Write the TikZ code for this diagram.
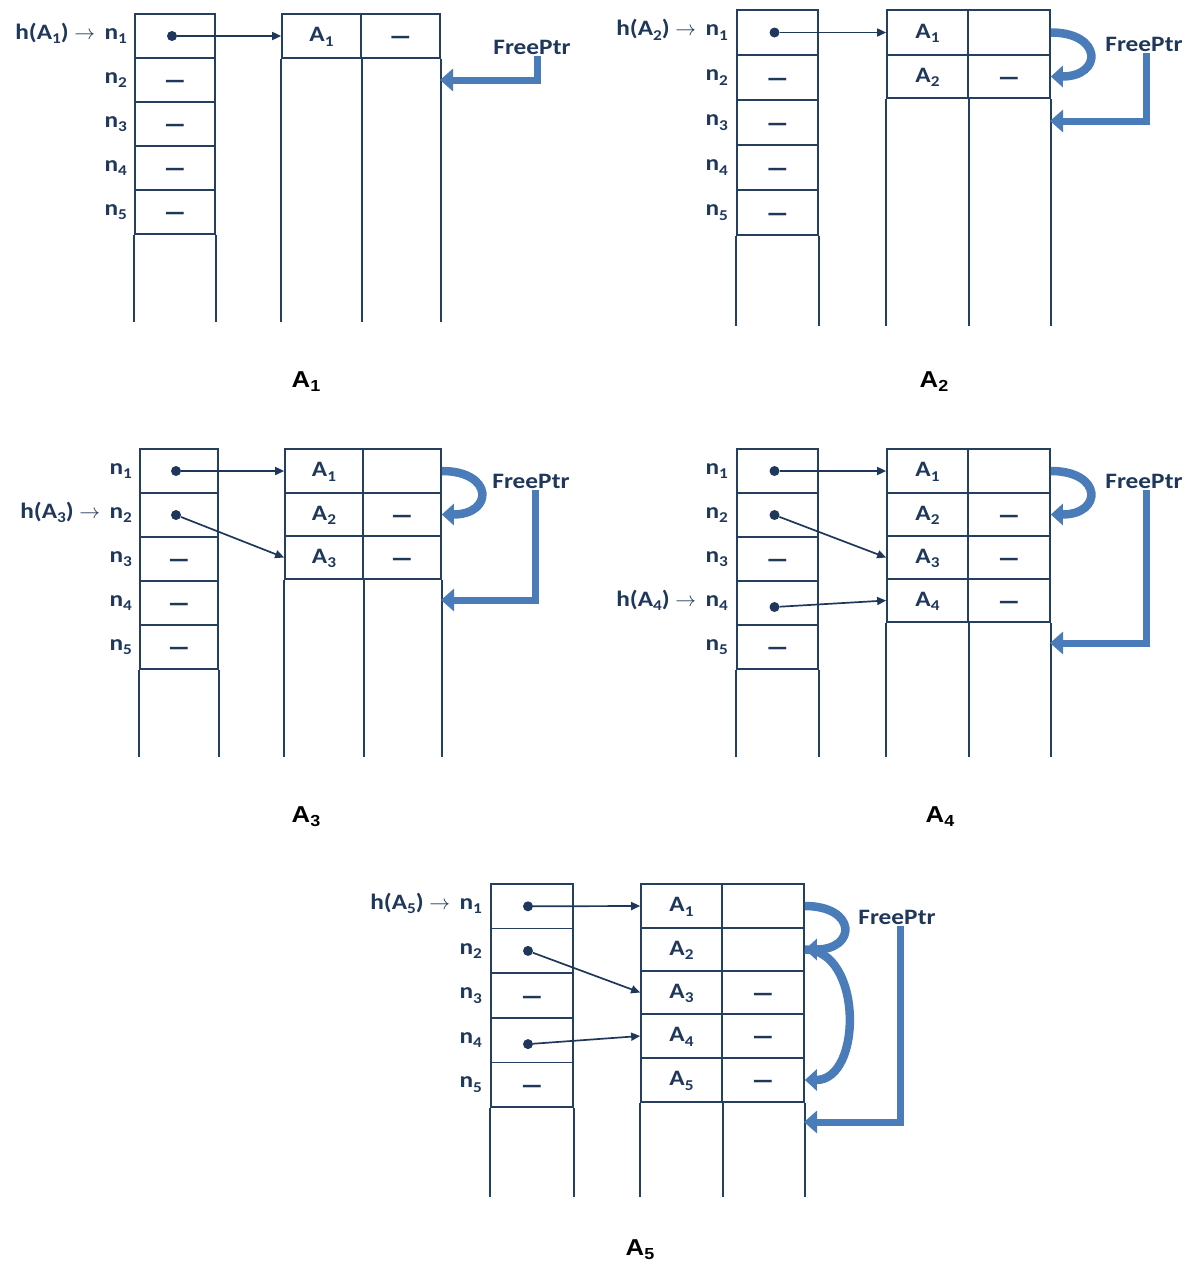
\documentclass[tikz,border=0pt]{standalone}
\usepackage{fontspec}
\setmainfont{Carlito}[FakeStretch=1.15]
\newfontfamily\capfont{Liberation Sans}[FakeStretch=1.12]
\newfontfamily\dashfont{Carlito}[FakeStretch=1.8]
\usetikzlibrary{arrows.meta,positioning}
\definecolor{navy}{RGB}{37,63,96}
\definecolor{inkblue}{RGB}{30,55,90}
\definecolor{arrowblue}{RGB}{74,124,186}
\newcommand{\cellfont}{\bfseries\fontsize{22}{26}\selectfont}
\newcommand{\sbs}[1]{\raisebox{-4.5pt}{\fontsize{15}{15}\selectfont#1}}
\newcommand{\capsbs}[1]{\raisebox{-4pt}{\fontsize{16}{16}\selectfont#1}}
\newcommand{\nil}{\raisebox{-4pt}{\dashfont\fontsize{28}{28}\selectfont –}}
\tikzset{
  cellbox/.style={draw=navy, line width=1.7pt, minimum width=#1, minimum height=44pt, inner sep=0pt,
    text height=15pt, text depth=4pt, text=inkblue, font=\cellfont},
  cellbox/.default=80pt,
  gridline/.style={draw=navy, line width=1.7pt},
  lbl/.style={text=inkblue, font=\cellfont, inner sep=0pt},
  dot/.style={circle, fill=inkblue, inner sep=0pt, minimum size=10pt},
  ptr/.style={inkblue, line width=1.7pt, -{Triangle[length=9pt,width=8pt]}},
  freeptr/.style={draw=arrowblue, line width=7pt, -{Triangle[length=13pt,width=22pt]}},
  loopy/.style={draw=arrowblue, line width=8.5pt, -{Triangle[length=12pt,width=21pt]}},
  fptxt/.style={text=inkblue, font=\cellfont, inner sep=2pt},
  captxt/.style={font=\capfont\bfseries\fontsize{23}{26}\selectfont}
}
\begin{document}
\begin{tikzpicture}[x=1pt,y=-1pt]
\useasboundingbox (0,0) rectangle (1188,1262);

% A1
\foreach \i/\yy/\c in {1/36/{},2/80/\nil,3/124/\nil,4/168/\nil,5/212/\nil}{
  \node[cellbox] (k1\i) at (175,\yy) {\c};
  \node[lbl, left=7pt of k1\i] (n1\i) {n\sbs{\i}};
}
\draw[gridline] (k15.south west) -- +(0,87) (k15.south east) -- +(0,87);
\node[cellbox=79pt] (rec11) at (321.5,36) {A\sbs{1}};
\node[cellbox=79pt] (lnk11) at (400.5,36) {\nil};
\draw[gridline] (rec11.south west) -- +(0,263) (rec11.south east) -- +(0,263) (lnk11.south east) -- +(0,263);
\node[dot] (d11) at ([xshift=-3pt]k11) {};
\draw[ptr] (d11) -- (rec11.west);
\node[lbl, anchor=base east] (h1) at ([xshift=-9pt]n11.base west) {h(A\sbs{1}) $\rightarrow$};
\node[fptxt] (fp1) at (532,47) {FreePtr};
\coordinate (free1) at (440,80);
\draw[freeptr] ([xshift=5pt]fp1.south) |- (free1);
\node[captxt] (cap1) at (306,382) {A\capsbs{1}};

% A2
\foreach \i/\yy/\c in {1/32.5/{},2/77.5/\nil,3/122.5/\nil,4/167.5/\nil,5/212.5/\nil}{
  \node[cellbox=81pt, minimum height=45pt] (k2\i) at (777.5,\yy) {\c};
  \node[lbl, left=8pt of k2\i] (n2\i) {n\sbs{\i}};
}
\draw[gridline] (k25.south west) -- +(0,90) (k25.south east) -- +(0,90);
\foreach \i/\yy/\hh/\c in {1/32.5/45/{},2/76.5/43/\nil}{
  \node[cellbox=81pt, minimum height=\hh pt] (rec2\i) at (927.5,\yy) {A\sbs{\i}};
  \node[cellbox=82pt, minimum height=\hh pt] (lnk2\i) at (1009,\yy) {\c};
}
\draw[gridline] (rec22.south west) -- +(0,227) (rec22.south east) -- +(0,227) (lnk22.south east) -- +(0,227);
\node[dot] (d21) at ([xshift=-3pt]k21) {};
\draw[ptr] (d21) -- (rec21.west);
\node[lbl, anchor=base east] (h2) at ([xshift=-9pt]n21.base west) {h(A\sbs{2}) $\rightarrow$};
\draw[loopy] (lnk21.east) .. controls +(52,0) and +(52,0) .. (lnk22.east);
\node[fptxt] (fp2) at (1144,44) {FreePtr};
\coordinate (free2) at (1050,121);
\draw[freeptr] ([xshift=2pt]fp2.south) |- (free2);
\node[captxt] (cap2) at (934,382) {A\capsbs{2}};

% A3
\foreach \i/\yy/\c in {1/471/{},2/515/{},3/559/\nil,4/603/\nil,5/647/\nil}{
  \node[cellbox=78pt] (k3\i) at (179,\yy) {\c};
  \node[lbl, left=7pt of k3\i] (n3\i) {n\sbs{\i}};
}
\draw[gridline] (k35.south west) -- +(0,87) (k35.south east) -- +(0,87);
\foreach \i/\yy/\hh/\c in {1/471/44/{},2/514.5/43/\nil,3/557.5/43/\nil}{
  \node[cellbox=78pt, minimum height=\hh pt] (rec3\i) at (324,\yy) {A\sbs{\i}};
  \node[cellbox=78pt, minimum height=\hh pt] (lnk3\i) at (402,\yy) {\c};
}
\draw[gridline] (rec33.south west) -- +(0,177) (rec33.south east) -- +(0,177) (lnk33.south east) -- +(0,177);
\node[dot] (d31) at ([xshift=-3pt]k31) {};
\node[dot] (d32) at ([xshift=-3pt]k32) {};
\draw[ptr] (d31) -- (rec31.west);
\draw[ptr] (d32) -- (rec33.west);
\node[lbl, anchor=base east] (h3) at ([xshift=-9pt]n32.base west) {h(A\sbs{3}) $\rightarrow$};
\draw[loopy] (lnk31.east) .. controls +(52,0) and +(52,0) .. (lnk32.east);
\node[fptxt] (fp3) at (531,481) {FreePtr};
\coordinate (free3) at (441,600);
\draw[freeptr] ([xshift=4pt]fp3.south) |- (free3);
\node[captxt] (cap3) at (306,817) {A\capsbs{3}};

% A4
\foreach \i/\yy/\c in {1/471/{},2/515/{},3/559/\nil,4/603/{},5/647/\nil}{
  \node[cellbox=81pt] (k4\i) at (777.5,\yy) {\c};
  \node[lbl, left=8pt of k4\i] (n4\i) {n\sbs{\i}};
}
\draw[gridline] (k45.south west) -- +(0,87) (k45.south east) -- +(0,87);
\foreach \i/\yy/\hh/\c in {1/471/44/{},2/514.5/43/\nil,3/557.5/43/\nil,4/600.5/43/\nil}{
  \node[cellbox=81pt, minimum height=\hh pt] (rec4\i) at (927.5,\yy) {A\sbs{\i}};
  \node[cellbox=82pt, minimum height=\hh pt] (lnk4\i) at (1009,\yy) {\c};
}
\draw[gridline] (rec44.south west) -- +(0,134) (rec44.south east) -- +(0,134) (lnk44.south east) -- +(0,134);
\node[dot] (d41) at ([xshift=-3pt]k41) {};
\node[dot] (d42) at ([xshift=-3pt]k42) {};
\node[dot] (d44) at ([xshift=-3pt,yshift=-4pt]k44) {};
\draw[ptr] (d41) -- (rec41.west);
\draw[ptr] (d42) -- (rec43.west);
\draw[ptr] (d44) -- (rec44.west);
\node[lbl, anchor=base east] (h4) at ([xshift=-9pt]n44.base west) {h(A\sbs{4}) $\rightarrow$};
\draw[loopy] (lnk41.east) .. controls +(52,0) and +(52,0) .. (lnk42.east);
\node[fptxt] (fp4) at (1144,481) {FreePtr};
\coordinate (free4) at (1050,643);
\draw[freeptr] ([xshift=2pt]fp4.south) |- (free4);
\node[captxt] (cap4) at (940,817) {A\capsbs{4}};

% A5
\foreach \i/\yy/\c in {1/906.3/{},2/950.9/{},3/995.5/\nil,4/1040.1/{},5/1084.7/\nil}{
  \node[cellbox=82pt, minimum height=44.6pt] (k5\i) at (532,\yy) {\c};
  \node[lbl, left=8pt of k5\i] (n5\i) {n\sbs{\i}};
}
\draw[gridline] (k55.south west) -- +(0,89) (k55.south east) -- +(0,89);
\foreach \i/\yy/\hh/\c in {1/906/44/{},2/949.5/43/{},3/992.5/43/\nil,4/1036/44/\nil,5/1080/44/\nil}{
  \node[cellbox=81pt, minimum height=\hh pt] (rec5\i) at (681.5,\yy) {A\sbs{\i}};
  \node[cellbox=82pt, minimum height=\hh pt] (lnk5\i) at (763,\yy) {\c};
}
\draw[gridline] (rec55.south west) -- +(0,94) (rec55.south east) -- +(0,94) (lnk55.south east) -- +(0,94);
\node[dot] (d51) at ([xshift=-4pt]k51) {};
\node[dot] (d52) at ([xshift=-4pt]k52) {};
\node[dot] (d54) at ([xshift=-4pt,yshift=-4pt]k54) {};
\draw[ptr] (d51) -- (rec51.west);
\draw[ptr] (d52) -- (rec53.west);
\draw[ptr] (d54) -- (rec54.west);
\node[lbl, anchor=base east] (h5) at ([xshift=-9pt]n51.base west) {h(A\sbs{5}) $\rightarrow$};
\draw[loopy] (lnk51.east) .. controls +(52,0) and +(52,0) .. (lnk52.east);
\draw[loopy] (lnk52.east) .. controls +(58,0) and +(58,0) .. (lnk55.east);
\node[fptxt] (fp5) at (897,917) {FreePtr};
\coordinate (free5) at (804,1122);
\draw[freeptr] ([xshift=3pt]fp5.south) |- (free5);
\node[captxt] (cap5) at (640,1250) {A\capsbs{5}};
\end{tikzpicture}
\end{document}
